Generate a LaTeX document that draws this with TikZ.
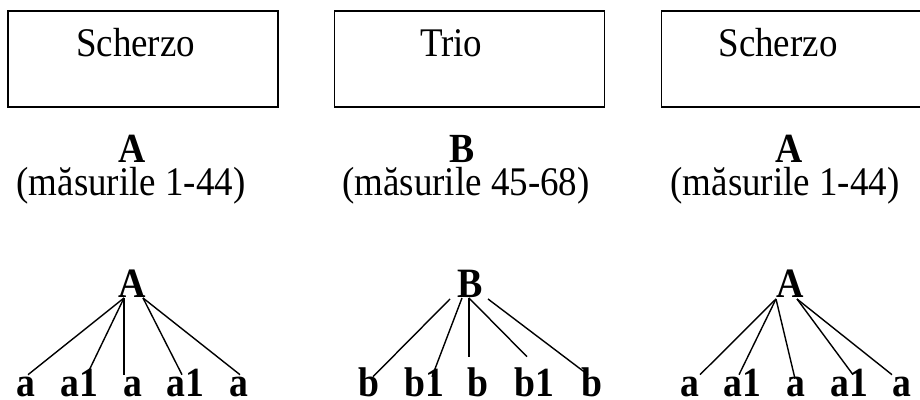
\documentclass[tikz,border=0pt]{standalone}
\usepackage{graphicx}
\usepackage{fontspec}
\setmainfont{Liberation Serif}
\newcommand{\tall}[1]{\scalebox{1}[1.1]{#1}}
\begin{document}
\begin{tikzpicture}[
        % stiluri pentru casete, titluri si arbori
        panel/.style={
            draw=black,
            line width=1.2pt,
            minimum width=6.75cm,
            minimum height=2.4cm,
            inner sep=0pt
        },
        title/.style={
            anchor=base,
            inner sep=0pt,
            font=\fontsize{26.3}{31}\selectfont
        },
        head/.style={
            anchor=base,
            inner sep=0pt,
            font=\fontsize{26.8}{31}\selectfont\bfseries
        },
        span/.style={
            anchor=base,
            inner sep=0pt,
            font=\fontsize{26.3}{31}\selectfont
        },
        root/.style={
            anchor=base,
            inner sep=0pt,
            text depth=0pt,
            font=\fontsize{27}{31}\selectfont\bfseries
        },
        leaf/.style={
            anchor=base,
            inner sep=0pt,
            text height=0.55cm,
            text depth=0pt,
            font=\fontsize{26.8}{31}\selectfont\bfseries
        },
        branch/.style={
            black,
            line width=1pt
        }
    ]
        \clip (0,0) rectangle (23,10);

        % --- 1. casetele de sus ---
        \node[panel] (box1) at (3.575, 8.525) {};
        \node[panel] (box2) at (11.735, 8.525) {};
        \node[panel] (box3) at (19.915, 8.525) {};

        \node[title] (t1) at (3.39, 8.575) {\tall{Scherzo}};
        \node[title] (t2) at (11.28, 8.575) {\tall{Trio}};
        \node[title] (t3) at (19.45, 8.575) {\tall{Scherzo}};

        % --- 2. sectiunile si masurile ---
        \node[head] (h1) at (3.3, 5.925) {\tall{A}};
        \node[span] (m1) at (3.275, 5.1) {\tall{(măsurile 1-44)}};

        \node[head] (h2) at (11.54, 5.925) {\tall{B}};
        \node[span] (m2) at (11.65, 5.1) {\tall{(măsurile 45-68)}};

        \node[head] (h3) at (19.725, 5.925) {\tall{A}};
        \node[span] (m3) at (19.625, 5.1) {\tall{(măsurile 1-44)}};

        % --- 3. arborele din stanga ---
        \node[root] (r1) at (3.31, 2.55) {\tall{A}};
        \node[leaf] (a11) at (0.65, 0.075) {\tall{a}};
        \node[leaf] (a12) at (1.975, 0.075) {\tall{a1}};
        \node[leaf] (a13) at (3.325, 0.075) {\tall{a}};
        \node[leaf] (a14) at (4.625, 0.075) {\tall{a1}};
        \node[leaf] (a15) at (5.975, 0.075) {\tall{a}};

        \draw[branch] ([xshift=-0.21cm]r1.base) -- ([xshift=0.05cm]a11.north);
        \draw[branch] ([xshift=-0.21cm]r1.base) -- ([xshift=0.2cm]a12.north);
        \draw[branch] ([xshift=-0.21cm]r1.base) -- ([xshift=-0.225cm]a13.north);
        \draw[branch] ([xshift=0.265cm]r1.base) -- ([xshift=-0.075cm]a14.north);
        \draw[branch] ([xshift=0.265cm]r1.base) -- ([xshift=0.025cm]a15.north);

        % --- 4. arborele din mijloc ---
        \node[root] (r2) at (11.75, 2.55) {\tall{B}};
        \node[leaf] (b21) at (9.225, 0.075) {\tall{b}};
        \node[leaf] (b22) at (10.6, 0.075) {\tall{b1}};
        \node[leaf] (b23) at (11.96, 0.075) {\tall{b}};
        \node[leaf] (b24) at (13.35, 0.075) {\tall{b1}};
        \node[leaf] (b25) at (14.81, 0.075) {\tall{b}};

        \draw[branch] ([xshift=-0.5cm,yshift=-0.025cm]r2.base) -- ([xshift=0.1cm,yshift=-0.05cm]b21.north);
        \draw[branch] ([xshift=-0.2cm]r2.base) -- ([xshift=0.2cm,yshift=-0.05cm]b22.north);
        \draw[branch] ([xshift=-0.025cm]r2.base) -- ([xshift=-0.235cm,yshift=0.45cm]b23.north);
        \draw[branch] ([xshift=-0.025cm]r2.base) -- ([xshift=-0.175cm,yshift=0.45cm]b24.north);
        \draw[branch] ([xshift=0.45cm,yshift=-0.025cm]r2.base) -- ([xshift=-0.11cm]b25.north);

        % --- 5. arborele din dreapta ---
        \node[root] (r3) at (19.75, 2.55) {\tall{A}};
        \node[leaf] (a31) at (17.25, 0.075) {\tall{a}};
        \node[leaf] (a32) at (18.55, 0.075) {\tall{a1}};
        \node[leaf] (a33) at (19.9, 0.075) {\tall{a}};
        \node[leaf] (a34) at (21.225, 0.075) {\tall{a1}};
        \node[leaf] (a35) at (22.55, 0.075) {\tall{a}};

        \draw[branch] ([xshift=-0.35cm,yshift=-0.025cm]r3.base) -- ([xshift=0.25cm]a31.north);
        \draw[branch] ([xshift=-0.35cm,yshift=-0.025cm]r3.base) -- ([xshift=-0.075cm]a32.north);
        \draw[branch] ([xshift=-0.35cm,yshift=-0.025cm]r3.base) -- ([xshift=-0.025cm,yshift=-0.1cm]a33.north);
        \draw[branch] ([xshift=0.175cm,yshift=-0.025cm]r3.base) -- ([xshift=0.1cm]a34.north);
        \draw[branch] ([xshift=0.175cm,yshift=-0.025cm]r3.base) -- ([xshift=-0.25cm]a35.north);

    \end{tikzpicture}
\end{document}
